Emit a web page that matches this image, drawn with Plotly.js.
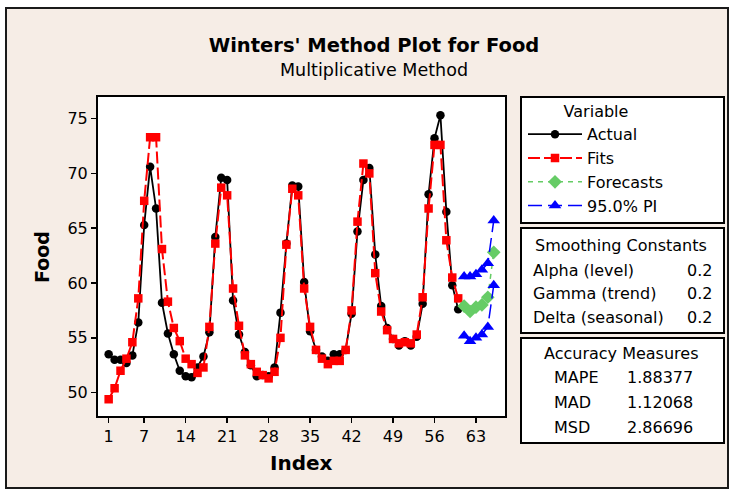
<!DOCTYPE html>
<html>
<head>
<meta charset="utf-8">
<script src="https://cdn.plot.ly/plotly-3.0.1.min.js"></script>
<style>
  html, body { margin: 0; padding: 0; background: #ffffff; }
  #frame {
    position: absolute; left: 5px; top: 7px; width: 724px; height: 482px;
    box-sizing: border-box; border: 2px solid #1a1a1a; background: #f6ede6;
  }
  #chart { position: absolute; left: 0; top: 0; width: 732px; height: 491px; }
</style>
</head>
<body>
<div id="frame"></div>
<div id="chart"></div>
<script>
// Monthly food series, Winters' multiplicative smoothing
const actualIndex = [1,2,3,4,5,6,7,8,9,10,11,12,13,14,15,16,17,18,19,20,
  21,22,23,24,25,26,27,28,29,30,31,32,33,34,35,36,37,38,39,40,
  41,42,43,44,45,46,47,48,49,50,51,52,53,54,55,56,57,58,59,60];

const actual = [53.5,53.0,53.0,52.7,53.4,56.4,65.3,70.6,66.8,58.2,
  55.4,53.5,52.0,51.5,51.4,52.3,53.3,55.5,64.2,69.6,
  69.4,58.4,55.3,53.7,52.5,51.5,51.6,51.5,52.3,57.3,
  63.6,68.9,68.8,60.1,55.6,53.9,53.3,52.9,53.5,53.5,
  53.9,57.2,64.7,69.4,70.5,62.6,57.9,55.9,54.9,54.3,
  54.7,54.3,55.1,58.1,68.1,73.2,75.3,66.5,59.8,57.6];

const fits = [49.4,50.4,52.0,53.1,54.6,58.6,67.5,73.3,73.3,63.1,
  58.3,55.9,54.7,53.1,52.6,51.8,52.3,56.0,63.6,68.7,
  68.0,59.5,56.1,53.4,52.6,51.9,51.6,51.3,51.9,55.0,
  63.5,68.6,68.0,59.5,56.0,53.9,53.1,52.6,52.9,52.9,
  53.9,57.5,65.6,70.9,70.0,60.9,57.4,55.7,54.9,54.5,
  54.6,54.5,55.3,58.7,66.8,72.6,72.6,63.9,60.5,58.6];

const forecastIndex = [61,62,63,64,65,66];
const forecasts = [57.9,57.4,57.8,58.0,58.7,62.8];
const piUpper = [60.6,60.6,60.8,61.2,61.8,65.7];
const piLower = [55.2,54.7,55.0,55.3,56.0,59.8];

const xTicks = [1,7,14,21,28,35,42,49,56,63];
const yTicks = [50,55,60,65,70,75];

const smoothingLabels = ['Alpha (level)', 'Gamma (trend)', 'Delta (seasonal)'];
const smoothingValues = ['0.2', '0.2', '0.2'];
const accuracyLabels = ['MAPE', 'MAD', 'MSD'];
const accuracyValues = ['1.88377', '1.12068', '2.86696'];

// plot area in pixels: x 98..505, y 97..416
const L = 98, R = 505, T = 97, B = 416;
const px = x => (x - L) / (R - L);
const py = y => (B - y) / (B - T);

const FONT = 'DejaVu Sans, Verdana, sans-serif';

const traces = [
  {
    x: actualIndex, y: actual, name: 'Actual', type: 'scatter', mode: 'lines+markers',
    line: { color: '#000000', width: 1.8 },
    marker: { symbol: 'circle', size: 8.5, color: '#000000' }
  },
  {
    x: actualIndex, y: fits, name: 'Fits', type: 'scatter', mode: 'lines+markers',
    line: { color: '#ff0000', width: 2, dash: '12px,4px' },
    marker: { symbol: 'square', size: 8.5, color: '#ff0000' }
  },
  {
    x: forecastIndex, y: forecasts, name: 'Forecasts', type: 'scatter', mode: 'lines+markers',
    line: { color: '#66cc66', width: 1.5, dash: '5px,5px' },
    marker: { symbol: 'diamond', size: 10.5, color: '#66cc66' }
  },
  {
    x: forecastIndex, y: piUpper, name: '95.0% PI', legendgroup: 'pi', type: 'scatter',
    mode: 'lines+markers',
    line: { color: '#0000ff', width: 1.5, dash: '14px,6px' },
    marker: { symbol: 'triangle-up', size: 11, color: '#0000ff' }
  },
  {
    x: forecastIndex, y: piLower, name: '95.0% PI', legendgroup: 'pi', showlegend: false,
    type: 'scatter', mode: 'lines+markers',
    line: { color: '#0000ff', width: 1.5, dash: '14px,6px' },
    marker: { symbol: 'triangle-up', size: 11, color: '#0000ff' }
  }
];

const boxes = [[521, 97, 724, 223], [521, 228, 724, 333], [521, 338, 724, 443]];
const shapes = boxes.map(b => ({
  type: 'rect', xref: 'paper', yref: 'paper', layer: 'below',
  x0: px(b[0]), x1: px(b[2]), y0: py(b[3]), y1: py(b[1]),
  line: { color: '#000000', width: 2 }, fillcolor: '#ffffff'
}));

function note(text, x, y, anchor, extra) {
  return Object.assign({
    text: text, xref: 'paper', yref: 'paper', x: px(x), y: py(y),
    xanchor: anchor, yanchor: 'middle', showarrow: false,
    font: { family: FONT, size: 16, color: '#000000' }
  }, extra || {});
}

const annotations = [
  note('Multiplicative Method', 374, 70, 'center', { font: { family: FONT, size: 17.5, color: '#000' } }),
  note('Food', 42, 257, 'center', { textangle: -90, font: { family: FONT, size: 19, color: '#000', weight: 'bold' } }),
  note('Index', 301, 463, 'center', { font: { family: FONT, size: 20, color: '#000', weight: 'bold' } }),
  note('Smoothing Constants', 621, 245, 'center'),
  note('Accuracy Measures', 621, 353, 'center')
];
smoothingLabels.forEach((t, i) => {
  annotations.push(note(t, 531, 270 + i * 23.5, 'left'));
  annotations.push(note(smoothingValues[i], 685, 270 + i * 23.5, 'left'));
});
accuracyLabels.forEach((t, i) => {
  annotations.push(note(t, 552, 377 + i * 25, 'left'));
  annotations.push(note(accuracyValues[i], 625, 377 + i * 25, 'left'));
});

const axisCommon = {
  showgrid: false, zeroline: false, showline: true, mirror: true,
  linecolor: '#000000', linewidth: 2,
  ticks: 'outside', ticklen: 5, tickwidth: 1.5, tickcolor: '#000000',
  tickfont: { family: FONT, size: 16, color: '#000000' }
};

const layout = {
  width: 732, height: 491,
  margin: { l: L, r: 732 - R, t: T, b: 491 - B, pad: 0 },
  paper_bgcolor: 'rgba(0,0,0,0)',
  plot_bgcolor: '#ffffff',
  title: {
    text: "Winters' Method Plot for Food",
    xref: 'container', yref: 'container',
    x: 374 / 732, y: 1 - 45 / 491, xanchor: 'center', yanchor: 'middle',
    font: { family: FONT, size: 19.5, color: '#000000', weight: 'bold' }
  },
  xaxis: Object.assign({}, axisCommon, {
    range: [-0.8, 67.9], tickmode: 'array', tickvals: xTicks, ticktext: xTicks.map(String)
  }),
  yaxis: Object.assign({}, axisCommon, {
    range: [47.87, 76.97], tickmode: 'array', tickvals: yTicks, ticktext: yTicks.map(String)
  }),
  showlegend: true,
  legend: {
    x: px(523), y: py(96.5), xanchor: 'left', yanchor: 'top',
    bgcolor: 'rgba(0,0,0,0)', borderwidth: 0,
    traceorder: 'normal', tracegroupgap: 0, itemwidth: 54,
    font: { family: FONT, size: 16, color: '#000000' },
    title: { text: 'Variable', side: 'top center', font: { family: FONT, size: 16, color: '#000000' } }
  },
  shapes: shapes,
  annotations: annotations
};

Plotly.newPlot('chart', traces, layout, { displayModeBar: false, staticPlot: true });
</script>
</body>
</html>
